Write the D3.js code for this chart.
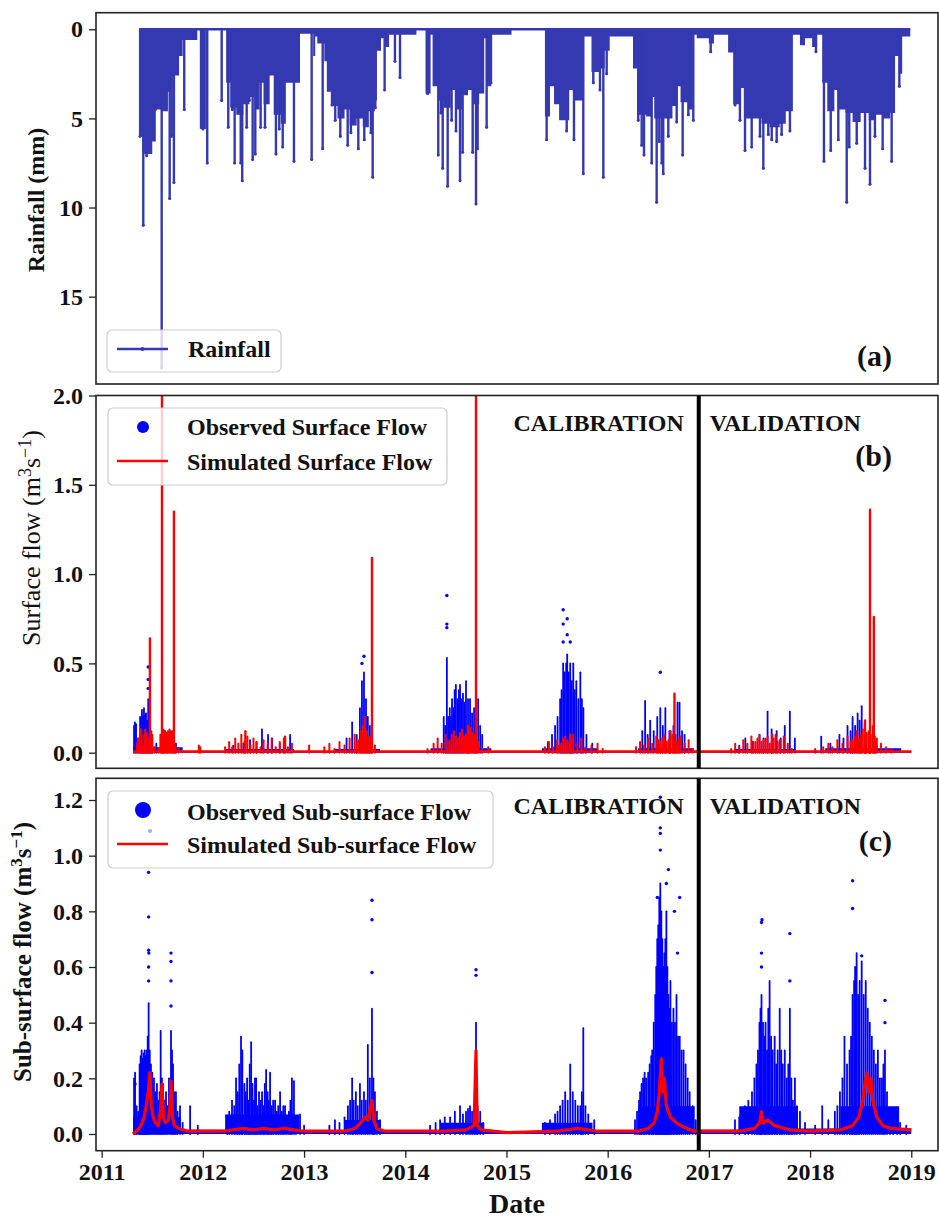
<!DOCTYPE html>
<html>
<head>
<meta charset="utf-8">
<script src="https://cdn.jsdelivr.net/npm/d3@7"></script>
<style>
  body { margin: 0; background: #fff; }
  svg { display: block; font-family: "Liberation Serif", "Times New Roman", serif; }
</style>
</head>
<body>
<svg id="chart" width="939" height="1218"></svg>
<script>
// ---- data (decimal years) ----
var years = [2011, 2012, 2013, 2014, 2015, 2016, 2017, 2018, 2019];
var rainTicks = [0, 5, 10, 15];
var surfTicks = [0, 0.5, 1.0, 1.5, 2.0];
var subTicks = [0, 0.2, 0.4, 0.6, 0.8, 1.0, 1.2];
var splitYear = 2016.9;
var seriesStart = 2011.372, seriesEnd = 2018.99;
var flowStart = 2011.31, flowEnd = 2019.0;
var simSurfFloor = 0.006;

// solid part of the daily rainfall trace (depth of the dense fill, mm)
var rainBand = [
  [2011.372, 6.0], [2011.405, 7.0], [2011.50, 6.3], [2011.535, 4.5], [2011.60, 4.6], [2011.655, 3.5],
  [2011.70, 2.6], [2011.765, 1.5], [2011.80, 0.6], [2011.945, 0], [2011.97, 5.6], [2012.03, 0],
  [2012.23, 3.0], [2012.27, 4.4], [2012.33, 4.8], [2012.40, 4.2], [2012.46, 3.8], [2012.52, 4.5],
  [2012.56, 3.0], [2012.60, 4.2], [2012.66, 2.6], [2012.70, 4.8], [2012.77, 5.3], [2012.82, 3.0],
  [2012.96, 0.25], [2013.09, 1.5], [2013.11, 0.4], [2013.13, 0.8], [2013.20, 1.8], [2013.225, 3.5],
  [2013.27, 4.3], [2013.33, 5.0], [2013.40, 4.5], [2013.45, 5.4], [2013.52, 5.0], [2013.58, 5.5],
  [2013.64, 4.6], [2013.70, 4.0], [2013.72, 1.2], [2013.76, 0.5], [2013.80, 1.0], [2013.84, 0.3],
  [2014.11, 0], [2014.20, 3.6], [2014.25, 0.3], [2014.27, 3.2], [2014.33, 4.0], [2014.38, 4.4],
  [2014.45, 3.4], [2014.50, 4.5], [2014.56, 3.7], [2014.62, 3.4], [2014.67, 4.2], [2014.73, 3.6],
  [2014.78, 0.5], [2014.80, 3.2], [2014.85, 0.3], [2015.05, 0],
  [2015.38, 4.9], [2015.43, 3.2], [2015.47, 4.2], [2015.52, 5.1], [2015.62, 3.4], [2015.67, 4.0],
  [2015.76, 0.4], [2015.84, 2.4], [2015.92, 2.2], [2015.97, 1.2], [2016.02, 0.4],
  [2016.25, 2.2], [2016.29, 4.8], [2016.38, 4.9], [2016.43, 3.8], [2016.46, 5.0], [2016.55, 5.0],
  [2016.64, 4.3], [2016.69, 3.2], [2016.72, 4.1], [2016.80, 4.5], [2016.84, 0.3], [2016.88, 0.5],
  [2017.00, 0.8], [2017.05, 0.3], [2017.19, 1.3], [2017.24, 4.2], [2017.30, 3.3], [2017.36, 5.0],
  [2017.45, 5.0], [2017.52, 5.3], [2017.60, 5.5], [2017.70, 5.3], [2017.76, 4.6], [2017.83, 0.3],
  [2017.90, 0.9], [2017.95, 0.5], [2018.02, 1.0], [2018.07, 0.3], [2018.12, 3.0], [2018.17, 4.6],
  [2018.24, 3.4], [2018.28, 4.5], [2018.35, 4.7], [2018.42, 5.2], [2018.50, 4.7], [2018.58, 5.1],
  [2018.65, 4.8], [2018.72, 5.0], [2018.79, 4.7], [2018.84, 1.5], [2018.88, 2.5], [2018.91, 0.4],
  [2018.99, 0]
];
// individual deeper rain days (mm)
var rainPeaks = [
  [2011.380, 6.0], [2011.411, 11.0], [2011.445, 7.1], [2011.477, 6.5], [2011.530, 4.5], [2011.593, 19.0],
  [2011.672, 9.5], [2011.692, 6.0], [2011.714, 8.6], [2011.816, 4.5], [2012.001, 5.6], [2012.043, 7.5],
  [2012.186, 4.0], [2012.251, 5.5], [2012.291, 4.5], [2012.314, 7.5], [2012.340, 4.1], [2012.374, 7.5],
  [2012.389, 8.5], [2012.433, 5.5], [2012.459, 4.0], [2012.492, 7.3], [2012.518, 7.0], [2012.571, 5.5],
  [2012.614, 5.5], [2012.722, 7.0], [2012.755, 5.6], [2012.789, 6.6], [2012.900, 7.4], [2013.075, 7.3],
  [2013.184, 6.7], [2013.276, 4.25], [2013.308, 5.1], [2013.358, 6.0], [2013.431, 6.5], [2013.463, 5.8],
  [2013.496, 4.5], [2013.536, 6.7], [2013.595, 6.2], [2013.661, 5.8], [2013.678, 8.3], [2013.704, 4.4],
  [2013.796, 3.4], [2013.898, 1.8], [2013.948, 2.7], [2014.221, 3.6], [2014.326, 7.06], [2014.353, 4.7],
  [2014.370, 7.8], [2014.419, 8.8], [2014.458, 5.1], [2014.501, 5.7], [2014.541, 8.5], [2014.567, 6.9],
  [2014.666, 6.9], [2014.699, 9.8], [2014.715, 6.7], [2014.804, 5.5], [2014.847, 3.0],
  [2015.397, 6.2], [2015.595, 5.7], [2015.667, 6.2], [2015.759, 8.1], [2015.858, 3.0], [2015.924, 3.4],
  [2015.957, 8.3], [2015.990, 2.5], [2016.302, 5.1], [2016.336, 6.5], [2016.359, 7.06], [2016.435, 7.5],
  [2016.484, 9.7], [2016.510, 6.3], [2016.534, 7.5], [2016.549, 8.1], [2016.599, 6.0], [2016.682, 5.2],
  [2016.741, 7.06], [2016.797, 4.8], [2016.846, 5.1], [2017.018, 1.26], [2017.258, 4.25], [2017.307, 5.1],
  [2017.357, 6.8], [2017.389, 4.1], [2017.423, 6.6], [2017.505, 6.0], [2017.538, 7.8], [2017.587, 5.9],
  [2017.621, 6.2], [2017.670, 6.3], [2017.719, 5.9], [2017.801, 5.7], [2018.058, 1.26], [2018.137, 7.4],
  [2018.204, 6.8], [2018.279, 6.2], [2018.362, 9.7], [2018.387, 6.6], [2018.461, 6.4], [2018.543, 7.8],
  [2018.592, 8.7], [2018.641, 6.0], [2018.717, 6.7], [2018.806, 7.4], [2018.882, 3.2]
];

// surface flow (m3/s)
var obsSurfBand = [
  [2011.31, 0.03], [2011.80, 0.01], [2012.22, 0.02], [2012.90, 0.008], [2013.30, 0.02], [2013.75, 0.008],
  [2014.25, 0.025], [2014.85, 0.008], [2015.35, 0.025], [2015.90, 0.008], [2016.30, 0.025], [2016.85, 0.008],
  [2017.25, 0.02], [2017.85, 0.008], [2018.15, 0.025], [2018.90, 0.008], [2019.0, 0.008]
];
var obsSurfCols = [
  [2011.320, 0.15], [2011.329, 0.17], [2011.340, 0.16], [2011.360, 0.08], [2011.380, 0.20], [2011.398, 0.24],
  [2011.408, 0.20], [2011.418, 0.25], [2011.428, 0.21], [2011.438, 0.22], [2011.450, 0.18], [2011.460, 0.30],
  [2011.477, 0.16], [2011.500, 0.08], [2011.540, 0.05], [2011.596, 0.25], [2011.610, 0.10], [2011.625, 0.12],
  [2011.650, 0.08], [2011.675, 0.12], [2011.700, 0.09], [2011.734, 0.05],
  [2012.300, 0.04], [2012.400, 0.05], [2012.466, 0.07], [2012.530, 0.06], [2012.584, 0.13], [2012.644, 0.10],
  [2012.684, 0.08], [2012.760, 0.05], [2012.862, 0.10],
  [2013.420, 0.08], [2013.475, 0.17], [2013.520, 0.10], [2013.552, 0.25], [2013.572, 0.40], [2013.592, 0.45],
  [2013.612, 0.30], [2013.630, 0.20], [2013.650, 0.15],
  [2014.380, 0.20], [2014.395, 0.15], [2014.411, 0.53], [2014.425, 0.20], [2014.440, 0.25], [2014.452, 0.20],
  [2014.462, 0.30], [2014.475, 0.25], [2014.488, 0.35], [2014.500, 0.38], [2014.515, 0.30], [2014.530, 0.35],
  [2014.541, 0.38], [2014.555, 0.30], [2014.570, 0.33], [2014.585, 0.28], [2014.600, 0.40], [2014.620, 0.30],
  [2014.640, 0.30], [2014.660, 0.22], [2014.680, 0.25], [2014.700, 0.20], [2014.720, 0.30], [2014.740, 0.15],
  [2014.760, 0.10],
  [2015.410, 0.06], [2015.450, 0.10], [2015.480, 0.15], [2015.505, 0.20], [2015.530, 0.30], [2015.545, 0.35],
  [2015.560, 0.50], [2015.575, 0.45], [2015.590, 0.50], [2015.600, 0.55], [2015.615, 0.45], [2015.630, 0.50],
  [2015.645, 0.40], [2015.660, 0.50], [2015.675, 0.35], [2015.690, 0.40], [2015.710, 0.30], [2015.730, 0.45],
  [2015.745, 0.30], [2015.760, 0.25], [2015.790, 0.10], [2015.848, 0.05],
  [2016.342, 0.12], [2016.370, 0.29], [2016.395, 0.10], [2016.420, 0.18], [2016.455, 0.12], [2016.490, 0.20],
  [2016.520, 0.25], [2016.545, 0.15], [2016.570, 0.25], [2016.610, 0.12], [2016.650, 0.15], [2016.670, 0.10],
  [2016.690, 0.28], [2016.710, 0.28], [2016.735, 0.12], [2016.760, 0.10],
  [2017.300, 0.04], [2017.360, 0.08], [2017.430, 0.06], [2017.500, 0.10], [2017.540, 0.08], [2017.580, 0.23],
  [2017.620, 0.13], [2017.670, 0.12], [2017.710, 0.08], [2017.750, 0.15], [2017.800, 0.23], [2017.850, 0.08],
  [2018.110, 0.09], [2018.200, 0.05], [2018.290, 0.10], [2018.330, 0.08], [2018.370, 0.15], [2018.400, 0.12],
  [2018.420, 0.20], [2018.445, 0.15], [2018.470, 0.22], [2018.490, 0.18], [2018.510, 0.26], [2018.550, 0.10],
  [2018.590, 0.10], [2018.650, 0.06]
];
var obsSurfDots = [
  [2011.460, 0.36], [2011.460, 0.41], [2011.460, 0.48], [2013.572, 0.50], [2013.592, 0.54],
  [2014.411, 0.70], [2014.411, 0.72], [2014.411, 0.88], [2015.560, 0.62], [2015.560, 0.72],
  [2015.560, 0.80], [2015.600, 0.66], [2015.600, 0.75], [2015.630, 0.62], [2016.520, 0.45]
];
// simulated surface flow: wet-season days (small peaks) plus the isolated high days
var simSurfBase = [
  [2011.35, 0.05], [2011.365, 0.08], [2011.38, 0.12], [2011.395, 0.10], [2011.41, 0.04], [2011.42, 0.10],
  [2011.43, 0.13], [2011.445, 0.11], [2011.46, 0.08], [2011.49, 0.12], [2011.50, 0.10], [2011.52, 0.03],
  [2011.56, 0.02], [2011.58, 0.10], [2011.61, 0.13], [2011.625, 0.12], [2011.64, 0.11], [2011.655, 0.12],
  [2011.67, 0.13], [2011.685, 0.12], [2011.70, 0.12], [2011.73, 0.04], [2011.76, 0.02], [2011.96, 0.04],
  [2011.975, 0.03], [2012.22, 0.03], [2012.26, 0.06], [2012.29, 0.03], [2012.32, 0.08], [2012.35, 0.05],
  [2012.38, 0.10], [2012.41, 0.06], [2012.44, 0.09], [2012.47, 0.04], [2012.50, 0.08], [2012.53, 0.06],
  [2012.57, 0.03], [2012.60, 0.07], [2012.64, 0.05], [2012.68, 0.08], [2012.72, 0.03], [2012.76, 0.06],
  [2012.80, 0.08], [2012.84, 0.03], [2012.88, 0.05], [2013.05, 0.04], [2013.20, 0.03], [2013.25, 0.05],
  [2013.30, 0.02], [2013.35, 0.06], [2013.40, 0.04], [2013.45, 0.08], [2013.50, 0.10], [2013.52, 0.06],
  [2013.54, 0.07], [2013.56, 0.12], [2013.58, 0.15], [2013.62, 0.12], [2013.64, 0.09], [2013.66, 0.08],
  [2013.70, 0.04], [2014.22, 0.02], [2014.28, 0.05], [2014.32, 0.08], [2014.36, 0.05], [2014.40, 0.10],
  [2014.42, 0.06], [2014.44, 0.07], [2014.46, 0.10], [2014.48, 0.12], [2014.50, 0.09], [2014.52, 0.08],
  [2014.54, 0.11], [2014.56, 0.13], [2014.58, 0.09], [2014.60, 0.10], [2014.62, 0.12], [2014.64, 0.14],
  [2014.66, 0.11], [2014.68, 0.10], [2014.72, 0.06], [2014.76, 0.02], [2014.82, 0.03], [2015.38, 0.03],
  [2015.42, 0.06], [2015.46, 0.03], [2015.50, 0.07], [2015.52, 0.04], [2015.54, 0.05], [2015.56, 0.08],
  [2015.58, 0.09], [2015.60, 0.07], [2015.62, 0.06], [2015.64, 0.08], [2015.66, 0.10], [2015.70, 0.05],
  [2015.74, 0.08], [2015.78, 0.03], [2015.84, 0.04], [2015.90, 0.05], [2015.95, 0.02], [2016.28, 0.03],
  [2016.32, 0.06], [2016.36, 0.04], [2016.40, 0.08], [2016.44, 0.05], [2016.48, 0.09], [2016.50, 0.07],
  [2016.52, 0.06], [2016.54, 0.08], [2016.56, 0.10], [2016.58, 0.06], [2016.60, 0.07], [2016.64, 0.10],
  [2016.68, 0.06], [2016.70, 0.08], [2016.72, 0.09], [2016.76, 0.05], [2016.80, 0.07], [2016.84, 0.02],
  [2017.22, 0.02], [2017.26, 0.05], [2017.30, 0.03], [2017.34, 0.07], [2017.38, 0.05], [2017.42, 0.09],
  [2017.44, 0.06], [2017.46, 0.06], [2017.48, 0.08], [2017.50, 0.10], [2017.52, 0.06], [2017.54, 0.07],
  [2017.56, 0.08], [2017.58, 0.09], [2017.60, 0.05], [2017.62, 0.06], [2017.64, 0.08], [2017.66, 0.10],
  [2017.68, 0.06], [2017.70, 0.07], [2017.74, 0.09], [2017.78, 0.05], [2017.82, 0.02], [2018.05, 0.02],
  [2018.13, 0.03], [2018.18, 0.05], [2018.22, 0.03], [2018.27, 0.07], [2018.32, 0.05], [2018.37, 0.09],
  [2018.40, 0.06], [2018.42, 0.07], [2018.44, 0.09], [2018.46, 0.12], [2018.48, 0.08], [2018.50, 0.10],
  [2018.52, 0.13], [2018.54, 0.16], [2018.56, 0.11], [2018.58, 0.12], [2018.60, 0.10], [2018.62, 0.15],
  [2018.64, 0.09], [2018.66, 0.08], [2018.70, 0.05], [2018.75, 0.03], [2018.80, 0.02]
];
var simSurfPeaks = [
  [2011.388, 0.13], [2011.477, 0.64], [2011.596, 2.3], [2011.714, 1.35], [2012.420, 0.12], [2012.812, 0.09],
  [2013.600, 0.20], [2013.671, 1.09], [2014.620, 0.15], [2014.699, 2.3], [2015.630, 0.10], [2016.620, 0.12],
  [2016.660, 0.33], [2017.625, 0.10], [2018.543, 0.18], [2018.592, 1.36], [2018.630, 0.76]
];

// sub-surface flow (m3/s)
var obsSubBand = [
  [2011.31, 0.06], [2011.78, 0.015], [2012.22, 0.07], [2012.95, 0.012], [2013.40, 0.05], [2013.76, 0.012],
  [2014.35, 0.04], [2014.78, 0.01], [2015.35, 0.04], [2015.85, 0.012], [2016.30, 0.10], [2016.86, 0.015],
  [2017.30, 0.10], [2017.88, 0.02], [2018.30, 0.10], [2018.88, 0.02], [2019.0, 0.02]
];
var obsSubCols = [
  [2011.320, 0.20], [2011.330, 0.22], [2011.345, 0.10], [2011.360, 0.08], [2011.375, 0.25], [2011.385, 0.28],
  [2011.395, 0.30], [2011.405, 0.27], [2011.415, 0.29], [2011.425, 0.30], [2011.435, 0.28], [2011.445, 0.30],
  [2011.455, 0.35], [2011.464, 0.47], [2011.475, 0.30], [2011.487, 0.25], [2011.500, 0.22], [2011.517, 0.20],
  [2011.530, 0.15], [2011.546, 0.18], [2011.560, 0.12], [2011.572, 0.15], [2011.583, 0.37], [2011.595, 0.20],
  [2011.606, 0.18], [2011.620, 0.12], [2011.636, 0.15], [2011.650, 0.10], [2011.665, 0.20], [2011.685, 0.37],
  [2011.695, 0.30], [2011.705, 0.25], [2011.720, 0.15], [2011.734, 0.15], [2011.750, 0.08], [2011.774, 0.10],
  [2011.800, 0.04], [2011.874, 0.10], [2011.950, 0.03],
  [2012.240, 0.05], [2012.260, 0.08], [2012.288, 0.12], [2012.310, 0.10], [2012.328, 0.20], [2012.345, 0.15],
  [2012.360, 0.25], [2012.377, 0.35], [2012.390, 0.30], [2012.410, 0.18], [2012.425, 0.15], [2012.437, 0.20],
  [2012.450, 0.12], [2012.463, 0.25], [2012.477, 0.33], [2012.490, 0.18], [2012.505, 0.12], [2012.515, 0.20],
  [2012.526, 0.20], [2012.540, 0.10], [2012.555, 0.15], [2012.570, 0.12], [2012.585, 0.15], [2012.600, 0.10],
  [2012.612, 0.18], [2012.625, 0.23], [2012.640, 0.15], [2012.652, 0.12], [2012.664, 0.22], [2012.680, 0.10],
  [2012.695, 0.12], [2012.714, 0.12], [2012.730, 0.08], [2012.745, 0.10], [2012.763, 0.15], [2012.780, 0.08],
  [2012.795, 0.10], [2012.812, 0.10], [2012.830, 0.06], [2012.850, 0.08], [2012.865, 0.12], [2012.880, 0.20],
  [2012.900, 0.19], [2012.920, 0.05], [2012.960, 0.07], [2013.000, 0.03],
  [2013.250, 0.03], [2013.305, 0.05], [2013.350, 0.04], [2013.400, 0.06], [2013.433, 0.10], [2013.455, 0.12],
  [2013.475, 0.20], [2013.490, 0.12], [2013.512, 0.15], [2013.530, 0.10], [2013.552, 0.18], [2013.570, 0.12],
  [2013.592, 0.15], [2013.610, 0.12], [2013.630, 0.32], [2013.650, 0.20], [2013.671, 0.45], [2013.685, 0.20],
  [2013.700, 0.15], [2013.720, 0.08], [2013.750, 0.05],
  [2014.245, 0.03], [2014.300, 0.04], [2014.344, 0.05], [2014.390, 0.06], [2014.443, 0.06], [2014.490, 0.08],
  [2014.541, 0.10], [2014.570, 0.07], [2014.600, 0.08], [2014.620, 0.09], [2014.640, 0.10], [2014.660, 0.08],
  [2014.680, 0.10], [2014.699, 0.40], [2014.715, 0.10], [2014.740, 0.08], [2014.770, 0.04],
  [2015.380, 0.04], [2015.430, 0.05], [2015.480, 0.07], [2015.505, 0.08], [2015.530, 0.10], [2015.555, 0.12],
  [2015.580, 0.15], [2015.605, 0.12], [2015.630, 0.25], [2015.655, 0.15], [2015.680, 0.12], [2015.705, 0.10],
  [2015.730, 0.10], [2015.745, 0.15], [2015.759, 0.38], [2015.780, 0.10], [2015.808, 0.07], [2015.867, 0.05],
  [2016.270, 0.05], [2016.290, 0.08], [2016.310, 0.12], [2016.320, 0.15], [2016.335, 0.18], [2016.350, 0.20],
  [2016.365, 0.22], [2016.380, 0.20], [2016.400, 0.22], [2016.415, 0.25], [2016.430, 0.28], [2016.440, 0.30],
  [2016.455, 0.40], [2016.470, 0.50], [2016.480, 0.60], [2016.490, 0.70], [2016.500, 0.75], [2016.510, 0.85],
  [2016.520, 0.90], [2016.530, 0.80], [2016.540, 0.70], [2016.550, 0.60], [2016.560, 0.65], [2016.570, 0.70],
  [2016.580, 0.80], [2016.590, 0.60], [2016.600, 0.50], [2016.610, 0.45], [2016.620, 0.55], [2016.635, 0.40],
  [2016.650, 0.45], [2016.665, 0.40], [2016.680, 0.50], [2016.695, 0.35], [2016.712, 0.35], [2016.730, 0.30],
  [2016.750, 0.30], [2016.770, 0.25], [2016.790, 0.20], [2016.810, 0.15], [2016.840, 0.10], [2016.870, 0.05],
  [2017.258, 0.05], [2017.300, 0.06], [2017.357, 0.10], [2017.390, 0.12], [2017.426, 0.15], [2017.450, 0.20],
  [2017.470, 0.25], [2017.485, 0.30], [2017.500, 0.40], [2017.510, 0.45], [2017.520, 0.50], [2017.535, 0.40],
  [2017.548, 0.35], [2017.560, 0.40], [2017.575, 0.30], [2017.587, 0.45], [2017.600, 0.55], [2017.615, 0.35],
  [2017.630, 0.30], [2017.650, 0.35], [2017.665, 0.25], [2017.680, 0.30], [2017.700, 0.45], [2017.715, 0.30],
  [2017.730, 0.25], [2017.750, 0.30], [2017.770, 0.20], [2017.785, 0.25], [2017.800, 0.45], [2017.815, 0.20],
  [2017.830, 0.12], [2017.850, 0.20], [2017.870, 0.10], [2017.900, 0.08], [2017.950, 0.04],
  [2018.050, 0.03], [2018.120, 0.10], [2018.180, 0.05], [2018.245, 0.08], [2018.270, 0.10], [2018.295, 0.15],
  [2018.320, 0.20], [2018.340, 0.35], [2018.365, 0.25], [2018.390, 0.30], [2018.405, 0.35], [2018.420, 0.50],
  [2018.435, 0.55], [2018.445, 0.60], [2018.460, 0.65], [2018.475, 0.50], [2018.490, 0.55], [2018.510, 0.62],
  [2018.530, 0.50], [2018.550, 0.55], [2018.570, 0.45], [2018.590, 0.40], [2018.610, 0.35], [2018.630, 0.30],
  [2018.650, 0.25], [2018.670, 0.30], [2018.690, 0.20], [2018.710, 0.20], [2018.725, 0.25], [2018.740, 0.30],
  [2018.760, 0.15], [2018.790, 0.08], [2018.820, 0.06], [2018.860, 0.05], [2018.890, 0.04], [2018.950, 0.03]
];
var obsSubDots = [
  [2011.330, 0.18], [2011.464, 0.55], [2011.464, 0.60], [2011.464, 0.66], [2011.466, 0.65], [2011.464, 0.78],
  [2011.464, 0.94], [2011.685, 0.46], [2011.685, 0.55], [2011.685, 0.62], [2011.685, 0.65],
  [2013.671, 0.58], [2013.671, 0.77], [2013.671, 0.84], [2014.699, 0.57], [2014.699, 0.59],
  [2016.490, 0.85], [2016.520, 1.02], [2016.520, 1.08], [2016.520, 1.10], [2016.520, 1.21], [2016.580, 0.90],
  [2016.600, 0.95], [2016.660, 0.80], [2016.712, 0.85], [2016.690, 0.65],
  [2017.520, 0.60], [2017.520, 0.65], [2017.520, 0.76], [2017.525, 0.77], [2017.800, 0.55], [2017.800, 0.72],
  [2018.420, 0.81], [2018.420, 0.91], [2018.510, 0.64], [2018.740, 0.40], [2018.740, 0.48]
];
var simSub = [
  [2011.31, 0.0], [2011.34, 0.01], [2011.37, 0.02], [2011.40, 0.04], [2011.42, 0.06], [2011.44, 0.10],
  [2011.46, 0.15], [2011.477, 0.22], [2011.49, 0.10], [2011.51, 0.06], [2011.53, 0.04], [2011.56, 0.03],
  [2011.58, 0.08], [2011.596, 0.18], [2011.61, 0.06], [2011.63, 0.04], [2011.66, 0.05], [2011.675, 0.10],
  [2011.685, 0.19], [2011.70, 0.06], [2011.72, 0.03], [2011.76, 0.02], [2011.85, 0.01], [2012.00, 0.01],
  [2012.20, 0.01], [2012.30, 0.015], [2012.40, 0.02], [2012.50, 0.015], [2012.60, 0.02], [2012.70, 0.015],
  [2012.80, 0.02], [2012.90, 0.015], [2013.00, 0.01], [2013.40, 0.01], [2013.50, 0.02], [2013.56, 0.04],
  [2013.60, 0.06], [2013.63, 0.05], [2013.66, 0.10], [2013.671, 0.12], [2013.69, 0.05], [2013.72, 0.02],
  [2013.80, 0.01], [2014.40, 0.01], [2014.60, 0.015], [2014.68, 0.03], [2014.699, 0.30], [2014.71, 0.03],
  [2014.75, 0.015], [2015.00, 0.005], [2015.50, 0.01], [2015.70, 0.02], [2015.90, 0.01], [2016.30, 0.01],
  [2016.40, 0.02], [2016.46, 0.04], [2016.49, 0.08], [2016.51, 0.15], [2016.53, 0.27], [2016.545, 0.15],
  [2016.56, 0.20], [2016.58, 0.10], [2016.62, 0.06], [2016.68, 0.04], [2016.75, 0.025], [2016.85, 0.01],
  [2017.30, 0.01], [2017.45, 0.02], [2017.50, 0.04], [2017.52, 0.08], [2017.54, 0.04], [2017.58, 0.05],
  [2017.65, 0.03], [2017.80, 0.015], [2018.00, 0.01], [2018.30, 0.015], [2018.42, 0.03], [2018.48, 0.06],
  [2018.52, 0.12], [2018.55, 0.20], [2018.56, 0.22], [2018.58, 0.15], [2018.60, 0.20], [2018.62, 0.12],
  [2018.66, 0.06], [2018.72, 0.03], [2018.80, 0.02], [2019.00, 0.015]
];

// ---- layout ----
var L = 96, R = 938;
var panels = {
  a: { top: 12.7, bottom: 384 },
  b: { top: 395.5, bottom: 768.3 },
  c: { top: 778.3, bottom: 1150.7 }
};
var rainColor = "#3539b1", obsColor = "#0000ff", simColor = "#ff0000";
var frameColor = "#222";

var svg = d3.select("#chart");
svg.append("rect").attr("width", 939).attr("height", 1218).attr("fill", "#fff");

var x = d3.scaleLinear().domain([2010.944, 2019.264]).range([L, R]);
var yA = d3.scaleLinear().domain([-0.93, 19.9]).range([panels.a.top, panels.a.bottom]);
var yB = d3.scaleLinear().domain([-0.0875, 2.0]).range([panels.b.bottom, panels.b.top]);
var yC = d3.scaleLinear().domain([-0.06, 1.278]).range([panels.c.bottom, panels.c.top]);

// clip paths
var defs = svg.append("defs");
Object.keys(panels).forEach(function(k) {
  defs.append("clipPath").attr("id", "clip-" + k)
    .append("rect").attr("x", L).attr("y", panels[k].top)
    .attr("width", R - L).attr("height", panels[k].bottom - panels[k].top);
});

function leftAxis(scale, ticks, fmt) {
  var g = svg.append("g").attr("transform", "translate(" + L + ",0)")
    .call(d3.axisLeft(scale).tickValues(ticks).tickFormat(fmt).tickSize(7).tickPadding(6));
  g.select(".domain").remove();
  g.selectAll(".tick line").attr("stroke", frameColor).attr("stroke-width", 1.3);
  g.selectAll(".tick text").attr("fill", "#111").attr("font-size", 24).attr("font-weight", "bold")
    .attr("font-family", "Liberation Serif, Times New Roman, serif");
  return g;
}

function frame(p) {
  svg.append("rect").attr("x", L).attr("y", p.top).attr("width", R - L).attr("height", p.bottom - p.top)
    .attr("fill", "none").attr("stroke", frameColor).attr("stroke-width", 1.6);
}

function vlines(g, data, y, color, width) {
  g.append("g").selectAll("line").data(data).join("line")
    .attr("x1", function(d) { return x(d[0]); })
    .attr("x2", function(d) { return x(d[0]); })
    .attr("y1", y(0))
    .attr("y2", function(d) { return y(d[1]); })
    .attr("stroke", color).attr("stroke-width", width).attr("stroke-linecap", "round");
}

function dots(g, data, y, color, r) {
  g.append("g").selectAll("circle").data(data).join("circle")
    .attr("cx", function(d) { return x(d[0]); })
    .attr("cy", function(d) { return y(d[1]); })
    .attr("r", r).attr("fill", color);
}

function band(g, data, y, color, curve) {
  g.append("path").datum(data)
    .attr("fill", color)
    .attr("d", d3.area().curve(curve)
      .x(function(d) { return x(d[0]); })
      .y0(y(0))
      .y1(function(d) { return y(d[1]); }));
}

// ---------- panel (a): rainfall ----------
var gA = svg.append("g").attr("clip-path", "url(#clip-a)");
band(gA, rainBand, yA, rainColor, d3.curveStepAfter);
vlines(gA, rainPeaks, yA, rainColor, 2.4);
dots(gA, rainPeaks, yA, rainColor, 1.5);
gA.append("line").attr("x1", x(seriesStart)).attr("x2", x(seriesEnd))
  .attr("y1", yA(0)).attr("y2", yA(0)).attr("stroke", rainColor).attr("stroke-width", 2.5);
frame(panels.a);
leftAxis(yA, rainTicks, d3.format("d"));

// ---------- panel (b): surface flow ----------
var gB = svg.append("g").attr("clip-path", "url(#clip-b)");
band(gB, obsSurfBand, yB, obsColor, d3.curveStepAfter);
vlines(gB, obsSurfCols, yB, obsColor, 1.8);
dots(gB, obsSurfDots, yB, obsColor, 1.7);
gB.append("line").attr("x1", x(flowStart)).attr("x2", x(flowEnd))
  .attr("y1", yB(simSurfFloor)).attr("y2", yB(simSurfFloor))
  .attr("stroke", simColor).attr("stroke-width", 2.5);
vlines(gB, simSurfBase, yB, simColor, 2.0);
vlines(gB, simSurfPeaks, yB, simColor, 2.4);
frame(panels.b);
leftAxis(yB, surfTicks, d3.format(".1f"));

// ---------- panel (c): sub-surface flow ----------
var gC = svg.append("g").attr("clip-path", "url(#clip-c)");
band(gC, obsSubBand, yC, obsColor, d3.curveStepAfter);
vlines(gC, obsSubCols, yC, obsColor, 1.8);
dots(gC, obsSubDots, yC, obsColor, 1.7);
gC.append("path").datum(simSub).attr("fill", "none").attr("stroke", simColor).attr("stroke-width", 3.2)
  .attr("stroke-linejoin", "round")
  .attr("d", d3.line().x(function(d) { return x(d[0]); }).y(function(d) { return yC(d[1]); }));
frame(panels.c);
leftAxis(yC, subTicks, d3.format(".1f"));

// x axis on bottom panel
var gx = svg.append("g").attr("transform", "translate(0," + panels.c.bottom + ")")
  .call(d3.axisBottom(x).tickValues(years).tickFormat(d3.format("d")).tickSize(7).tickPadding(5));
gx.select(".domain").remove();
gx.selectAll(".tick line").attr("stroke", frameColor).attr("stroke-width", 1.3);
gx.selectAll(".tick text").attr("fill", "#111").attr("font-size", 24).attr("font-weight", "bold")
  .attr("font-family", "Liberation Serif, Times New Roman, serif");

// calibration / validation split
["b", "c"].forEach(function(k) {
  svg.append("line").attr("x1", x(splitYear)).attr("x2", x(splitYear))
    .attr("y1", panels[k].top).attr("y2", panels[k].bottom)
    .attr("stroke", "#000").attr("stroke-width", 4);
});

function label(txt, px, py, size, anchor, weight) {
  return svg.append("text").attr("x", px).attr("y", py).attr("font-size", size)
    .attr("font-weight", weight || "bold").attr("text-anchor", anchor || "start")
    .attr("fill", "#111").text(txt);
}
label("CALIBRATION", x(splitYear) - 15, 431, 24, "end");
label("VALIDATION", x(splitYear) + 11, 431, 24, "start");
label("CALIBRATION", x(splitYear) - 15, 814, 24, "end");
label("VALIDATION", x(splitYear) + 11, 814, 24, "start");
label("(a)", 892, 366, 30, "end");
label("(b)", 892, 466, 30, "end");
label("(c)", 892, 851, 30, "end");

// axis titles
label("Date", 517, 1213, 28, "middle");
label("Rainfall (mm)", 0, 0, 24, "middle").attr("transform", "translate(44,200) rotate(-90)");

function flowTitle(name, tx, ty, size, weight) {
  var sup = Math.round(size * 0.68);
  var t = svg.append("text").attr("transform", "translate(" + tx + "," + ty + ") rotate(-90)")
    .attr("text-anchor", "middle").attr("font-size", size).attr("font-weight", weight).attr("fill", "#111");
  t.append("tspan").text(name + " (m");
  t.append("tspan").attr("font-size", sup).attr("dy", -9).text("3");
  t.append("tspan").attr("dy", 9).text("s");
  t.append("tspan").attr("font-size", sup).attr("dy", -9).text("\u22121");
  t.append("tspan").attr("dy", 9).text(")");
}
flowTitle("Surface flow", 40, 538, 26, "normal");
flowTitle("Sub-surface flow", 31, 952, 25, "bold");

// legends
function legendBox(x0, y0, w, h) {
  svg.append("rect").attr("x", x0).attr("y", y0).attr("width", w).attr("height", h).attr("rx", 5)
    .attr("fill", "#fff").attr("fill-opacity", 0.8).attr("stroke", "#ccc").attr("stroke-width", 1.2);
}
legendBox(107, 330, 174, 42);
svg.append("line").attr("x1", 117).attr("x2", 168).attr("y1", 349).attr("y2", 349)
  .attr("stroke", rainColor).attr("stroke-width", 2.4);
svg.append("circle").attr("cx", 142.5).attr("cy", 349).attr("r", 2).attr("fill", rainColor);
label("Rainfall", 188, 357, 24, "start");

legendBox(108, 408, 339, 77);
svg.append("circle").attr("cx", 143).attr("cy", 427).attr("r", 6).attr("fill", obsColor);
svg.append("line").attr("x1", 117).attr("x2", 168).attr("y1", 461).attr("y2", 461)
  .attr("stroke", simColor).attr("stroke-width", 2.5);
label("Observed Surface Flow", 187, 435, 24, "start");
label("Simulated Surface Flow", 187, 470, 24, "start");

legendBox(108, 791, 385, 77);
svg.append("circle").attr("cx", 143).attr("cy", 810).attr("r", 8).attr("fill", obsColor);
svg.append("circle").attr("cx", 150).attr("cy", 831).attr("r", 2).attr("fill", "#a8a8ff");
svg.append("line").attr("x1", 117).attr("x2", 168).attr("y1", 844).attr("y2", 844)
  .attr("stroke", simColor).attr("stroke-width", 2.5);
label("Observed Sub-surface Flow", 187, 820, 24, "start");
label("Simulated Sub-surface Flow", 187, 853, 24, "start");
</script>
</body>
</html>
